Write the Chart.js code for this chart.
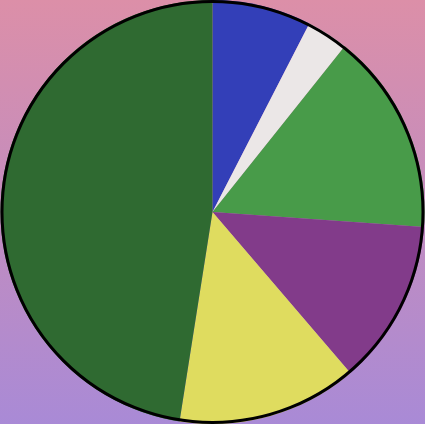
<!DOCTYPE html>
<html>
<head>
<meta charset="utf-8">
<script src="https://cdn.jsdelivr.net/npm/chart.js@4/dist/chart.umd.min.js"></script>
<style>
html,body{margin:0;padding:0;background:#c48dbd;}
#wrap{width:425px;height:424px;position:relative;}
</style>
</head>
<body>
<div id="wrap"><canvas id="c"></canvas></div>
<script>
const categories = ["A", "B", "C", "D", "E", "F"];
const values = [7.55, 3.17, 15.4, 12.6, 13.75, 47.5];
const colors = ["#333fb8", "#ebe7e7", "#489b49", "#823b8a", "#dfdc5f", "#2f6a31"];

const bgPlugin = {
  id: 'bg',
  beforeDraw(chart) {
    const ctx = chart.ctx;
    const g = ctx.createLinearGradient(0, 0, 0, chart.height);
    g.addColorStop(0, '#dc8fa8');
    g.addColorStop(1, '#a98ad6');
    ctx.save();
    ctx.fillStyle = g;
    ctx.fillRect(0, 0, chart.width, chart.height);
    ctx.restore();
  }
};
const rimPlugin = {
  id: 'rim',
  afterDatasetsDraw(chart) {
    const arc = chart.getDatasetMeta(0).data[0];
    if (!arc) return;
    const ctx = chart.ctx;
    ctx.save();
    ctx.beginPath();
    ctx.arc(arc.x, arc.y, arc.outerRadius - 1.5, 0, Math.PI * 2);
    ctx.lineWidth = 3;
    ctx.strokeStyle = '#000';
    ctx.stroke();
    ctx.restore();
  }
};

new Chart(document.getElementById('c'), {
  type: 'pie',
  data: {
    labels: categories,
    datasets: [{
      data: values,
      backgroundColor: colors,
      borderWidth: 0
    }]
  },
  options: {
    responsive: true,
    maintainAspectRatio: false,
    animation: false,
    layout: { padding: 0 },
    plugins: { legend: { display: false }, tooltip: { enabled: false } }
  },
  plugins: [bgPlugin, rimPlugin]
});
</script>
</body>
</html>
